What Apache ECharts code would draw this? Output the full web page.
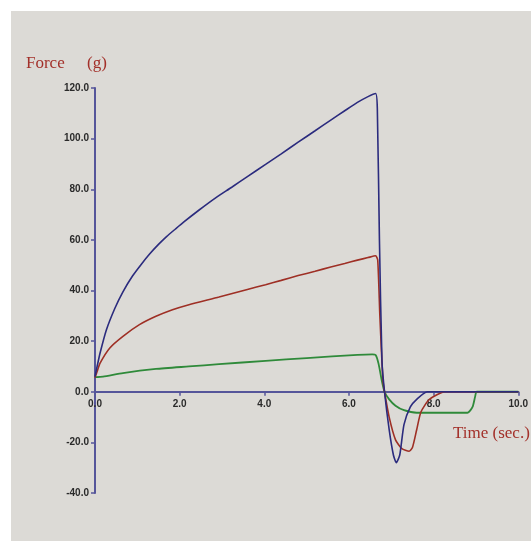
<!DOCTYPE html>
<html>
<head>
<meta charset="utf-8">
<script src="https://cdn.jsdelivr.net/npm/echarts@6/dist/echarts.min.js"></script>
<style>
html,body{margin:0;padding:0;background:#ffffff;width:531px;height:541px;overflow:hidden;}
#chart{position:absolute;left:11px;top:11px;width:520px;height:530px;background:#dcdad6;}
</style>
</head>
<body>
<div id="chart"></div>
<script>
// Time (sec.) and Force (g)
var blueTime  = [0, 0.05, 0.12, 0.27, 0.47, 0.66, 0.89, 1.1, 1.29, 1.5, 1.69, 1.9, 2.1, 2.46, 2.85, 3.23, 3.6, 4.03, 4.4, 4.8, 5.2, 5.57, 5.9, 6.2, 6.45, 6.63, 6.67, 6.72, 6.78, 6.84, 6.95, 7.05, 7.12, 7.2, 7.3, 7.45, 7.6, 7.85, 10];
var blueForce = [6, 10, 15.3, 24.5, 33, 39.5, 45.8, 50.5, 54.4, 58.2, 61.3, 64.3, 67.1, 71.8, 76.6, 80.8, 85, 89.8, 94, 98.6, 103.1, 107.3, 111, 114.3, 116.6, 117.8, 112, 60, 12, 0, -15, -25, -28, -25, -13, -6, -3, 0, 0];

var redTime  = [0, 0.05, 0.12, 0.35, 0.66, 1.05, 1.44, 1.83, 2.22, 2.93, 3.6, 4.03, 4.4, 4.8, 5.2, 5.57, 5.9, 6.2, 6.45, 6.63, 6.68, 6.73, 6.8, 6.84, 6.95, 7.1, 7.25, 7.42, 7.5, 7.6, 7.7, 7.9, 8.27, 10];
var redForce = [5.5, 8, 11.3, 17.3, 21.9, 26.5, 29.8, 32.4, 34.4, 37.4, 40.4, 42.3, 44, 45.9, 47.6, 49.3, 50.7, 52, 53, 53.7, 52, 30, 5, 0, -10, -19, -22.5, -23.5, -22, -15, -8, -3, 0, 0];

var greenTime  = [0, 0.19, 0.66, 1.44, 2.22, 2.93, 4.03, 5, 6.2, 6.55, 6.63, 6.7, 6.78, 6.84, 6.95, 7.1, 7.3, 7.6, 8.8, 8.92, 8.98, 9.02, 10];
var greenForce = [5.8, 6, 7.4, 9, 10, 10.9, 12.2, 13.3, 14.6, 14.8, 14.5, 11, 4, 0, -3, -5.5, -7.3, -8.3, -8.3, -6, -2, 0, 0];

var xTicks = { min: 0, max: 10, interval: 2 };
var yTicks = { min: -40, max: 120, interval: 20 };

function pairs(t, v) { return t.map(function (x, i) { return [x, v[i]]; }); }

var chart = echarts.init(document.getElementById('chart'), null, { renderer: 'canvas' });
var axisColor = '#55559a';
var labelStyle = { color: '#2a2a2a', fontFamily: 'Liberation Sans, Arial, sans-serif', fontWeight: 'bold', fontSize: 10 };
var gridTop = 77, gridHeight = 405;
// distance from the grid bottom up to the value-0 line
var zeroOffset = gridHeight * (0 - yTicks.min) / (yTicks.max - yTicks.min);
var titleFont = '17px "Liberation Serif", "Times New Roman", serif';

chart.setOption({
  animation: false,
  backgroundColor: '#dcdad6',
  grid: { left: 84, top: gridTop, width: 427, height: gridHeight, containLabel: false },
  xAxis: {
    type: 'value', min: xTicks.min, max: xTicks.max, interval: xTicks.interval,
    offset: -zeroOffset,
    axisLine: { show: true, onZero: false, lineStyle: { color: axisColor, width: 2 } },
    axisTick: { show: true, length: 4, lineStyle: { color: axisColor, width: 1.5 } },
    axisLabel: Object.assign({ margin: 7, formatter: function (v) { return v.toFixed(1); } }, labelStyle),
    splitLine: { show: false }
  },
  yAxis: {
    type: 'value', min: yTicks.min, max: yTicks.max, interval: yTicks.interval,
    axisLine: { show: true, lineStyle: { color: axisColor, width: 2 } },
    axisTick: { show: true, length: 4, lineStyle: { color: axisColor, width: 1.5 } },
    axisLabel: Object.assign({ margin: 6, formatter: function (v) { return v.toFixed(1); } }, labelStyle),
    splitLine: { show: false }
  },
  graphic: [
    { type: 'text', left: 15, top: 44, style: { text: 'Force', fill: '#a3302a', font: titleFont } },
    { type: 'text', left: 76, top: 44, style: { text: '(g)', fill: '#a3302a', font: titleFont } },
    { type: 'text', left: 442, top: 414, style: { text: 'Time (sec.)', fill: '#a3302a', font: titleFont } }
  ],
  series: [
    { type: 'line', data: pairs(greenTime, greenForce), showSymbol: false, smooth: 0.2, lineStyle: { color: '#2f8a3a', width: 1.8 }, z: 3 },
    { type: 'line', data: pairs(redTime, redForce), showSymbol: false, smooth: 0.2, lineStyle: { color: '#9e2f25', width: 1.6 }, z: 4 },
    { type: 'line', data: pairs(blueTime, blueForce), showSymbol: false, smooth: 0.2, lineStyle: { color: '#2b2b7e', width: 1.6 }, z: 5 }
  ]
});
</script>
</body>
</html>
